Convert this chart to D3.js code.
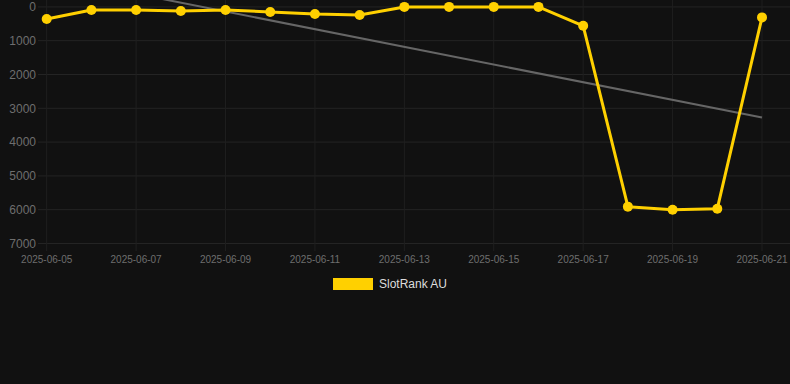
<!DOCTYPE html>
<html>
<head>
<meta charset="utf-8">
<script src="https://cdn.jsdelivr.net/npm/d3@7"></script>
<style>
  html, body { margin: 0; padding: 0; background: #111111; }
  svg { display: block; font-family: "Liberation Sans", Arial, sans-serif; }
</style>
</head>
<body>
<div id="chart"></div>
<script>
// data
const dates = ['2025-06-05', '2025-06-06', '2025-06-07', '2025-06-08', '2025-06-09', '2025-06-10',
  '2025-06-11', '2025-06-12', '2025-06-13', '2025-06-14', '2025-06-15', '2025-06-16',
  '2025-06-17', '2025-06-18', '2025-06-19', '2025-06-20', '2025-06-21'];
const ranks = [360, 90, 90, 120, 90, 150, 210, 240, 0, 0, 0, 0, 560, 5910, 6000, 5970, 310];
const trendStart = -910;   // value of the trend line at the first date
const trendEnd = 3275;     // value of the trend line at the last date
const yTicks = [0, 1000, 2000, 3000, 4000, 5000, 6000, 7000];
const seriesName = 'SlotRank AU';

const W = 790, H = 384;
const parse = d3.timeParse('%Y-%m-%d');
const fmt = d3.timeFormat('%Y-%m-%d');
const points = dates.map((d, i) => ({ date: parse(d), value: ranks[i] }));

const svg = d3.select('#chart').append('svg')
  .attr('width', W)
  .attr('height', H);

svg.append('rect').attr('width', W).attr('height', H).attr('fill', '#111111');

const x = d3.scaleTime()
  .domain(d3.extent(points, d => d.date))
  .range([46.7, 762]);

// rank axis: 0 at top
const y = d3.scaleLinear()
  .domain([0, 7000])
  .range([6.9, 243.5]);

const xTicks = dates.filter((_, i) => i % 2 === 0).map(parse);

// grid
svg.append('g')
  .selectAll('line')
  .data(yTicks)
  .join('line')
  .attr('x1', 38).attr('x2', W)
  .attr('y1', d => y(d)).attr('y2', d => y(d))
  .attr('stroke', '#242424')
  .attr('stroke-width', 1);

svg.append('g')
  .selectAll('line')
  .data(xTicks)
  .join('line')
  .attr('x1', d => x(d)).attr('x2', d => x(d))
  .attr('y1', 0).attr('y2', 251)
  .attr('stroke', '#1f1f1f')
  .attr('stroke-width', 1);

// axis labels
svg.append('g')
  .selectAll('text')
  .data(yTicks)
  .join('text')
  .attr('x', 36)
  .attr('y', d => y(d))
  .attr('dy', '0.35em')
  .attr('text-anchor', 'end')
  .style('font-size', '12px')
  .style('fill', '#6e6e6e')
  .text(d => d);

svg.append('g')
  .selectAll('text')
  .data(xTicks)
  .join('text')
  .attr('x', d => x(d))
  .attr('y', 259.5)
  .attr('dy', '0.35em')
  .attr('text-anchor', 'middle')
  .style('font-size', '10px')
  .style('fill', '#6e6e6e')
  .text(d => fmt(d));

// trend line
const first = points[0].date, last = points[points.length - 1].date;
svg.append('line')
  .attr('x1', x(first)).attr('y1', y(trendStart))
  .attr('x2', x(last)).attr('y2', y(trendEnd))
  .attr('stroke', '#666666')
  .attr('stroke-width', 2);

// series
const line = d3.line()
  .x(d => x(d.date))
  .y(d => y(d.value));

svg.append('path')
  .datum(points)
  .attr('d', line)
  .attr('fill', 'none')
  .attr('stroke', '#FFD000')
  .attr('stroke-width', 3)
  .attr('stroke-linejoin', 'round');

svg.append('g')
  .selectAll('circle')
  .data(points)
  .join('circle')
  .attr('cx', d => x(d.date))
  .attr('cy', d => y(d.value))
  .attr('r', 5)
  .attr('fill', '#FFD000');

// legend
const legend = svg.append('g').attr('transform', 'translate(333,278)');
legend.append('rect')
  .attr('width', 40).attr('height', 12)
  .attr('fill', '#FFD000');
legend.append('text')
  .attr('x', 46).attr('y', 6)
  .attr('dy', '0.35em')
  .style('font-size', '12px')
  .style('fill', '#dddddd')
  .text(seriesName);
</script>
</body>
</html>
